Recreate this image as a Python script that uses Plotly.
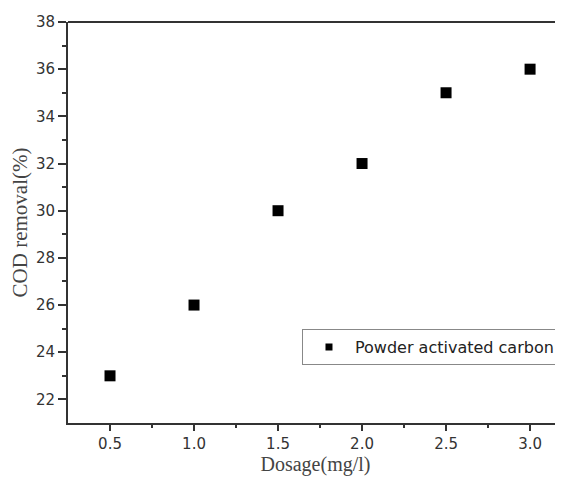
import plotly.graph_objects as go

dosage = [0.5, 1.0, 1.5, 2.0, 2.5, 3.0]
cod_removal = [23, 26, 30, 32, 35, 36]
series_name = "Powder activated carbon"
x_title = "Dosage(mg/l)"
y_title = "COD removal(%)"
x_ticks = [0.5, 1.0, 1.5, 2.0, 2.5, 3.0]
x_ticktext = ["0.5", "1.0", "1.5", "2.0", "2.5", "3.0"]
y_ticks = [22, 24, 26, 28, 30, 32, 34, 36, 38]

fig = go.Figure()
fig.add_trace(go.Scatter(
    x=dosage, y=cod_removal, mode="markers", name=series_name,
    marker=dict(symbol="square", size=11, color="black"),
    showlegend=False,
))
# legend entry (smaller marker, as in the reference legend)
fig.add_trace(go.Scatter(
    x=[None], y=[None], mode="markers", name=series_name,
    marker=dict(symbol="square", size=7, color="black"),
    showlegend=True,
))

axis_color = "#333333"
tickfont = dict(family="DejaVu Sans", size=15, color="#333333")
xtitlefont = dict(family="Liberation Serif, Times New Roman", size=20, color="#444444")
ytitlefont = dict(family="Liberation Serif, Times New Roman", size=21, color="#444444")

fig.update_layout(
    width=555, height=468,
    margin=dict(l=60, r=0, t=14, b=53),
    paper_bgcolor="white", plot_bgcolor="white",
    showlegend=True,
    legend=dict(
        x=0.4727, y=0.234, xanchor="left", yanchor="top",
        bordercolor="#888888", borderwidth=1, bgcolor="white",
        font=dict(family="DejaVu Sans", size=16, color="#222222"),
        itemwidth=42, entrywidth=300,
    ),
    xaxis=dict(
        range=[0.25, 3.196], tickvals=x_ticks, ticktext=x_ticktext,
        showgrid=False, zeroline=False,
        showline=True, linecolor=axis_color, linewidth=2,
        ticks="outside", ticklen=6, tickwidth=2, tickcolor=axis_color,
        minor=dict(tickvals=[0.75, 1.25, 1.75, 2.25, 2.75], ticks="outside",
                   ticklen=3, tickwidth=2, tickcolor=axis_color),
        tickfont=tickfont,
        title=dict(text=x_title, font=xtitlefont, standoff=4),
    ),
    yaxis=dict(
        range=[21, 38], tickvals=y_ticks,
        showgrid=False, zeroline=False,
        showline=True, linecolor=axis_color, linewidth=2,
        ticks="outside", ticklen=8, tickwidth=2, tickcolor=axis_color,
        minor=dict(tickvals=[23, 25, 27, 29, 31, 33, 35, 37], ticks="outside",
                   ticklen=4, tickwidth=2, tickcolor=axis_color),
        tickfont=tickfont,
        title=dict(text=y_title, font=ytitlefont, standoff=4),
    ),
)

fig.add_shape(type="line", xref="paper", yref="paper", x0=0, x1=1, y0=1, y1=1,
              line=dict(color=axis_color, width=2))

fig.write_html("out.html", config={"displayModeBar": False})
